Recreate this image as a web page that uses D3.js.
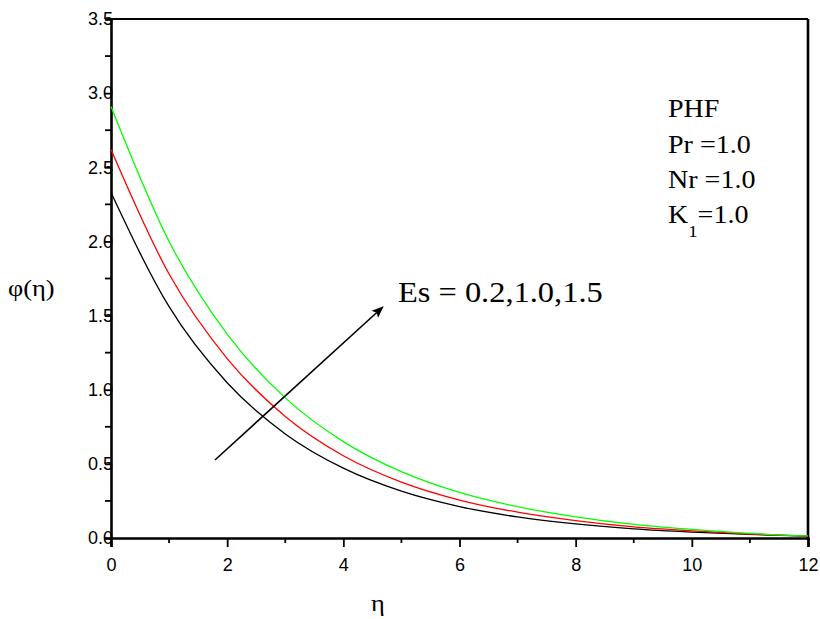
<!DOCTYPE html>
<html><head><meta charset="utf-8">
<script src="https://cdn.jsdelivr.net/npm/d3@7"></script>
<style>body{margin:0;background:#fff}svg{display:block}</style>
</head><body>
<svg id="c" width="820" height="619"></svg>
<script>
const eta = [0,1,2,3,4,5,6,7,8,9,10,11,12];
const phiEs02 = [2.33,1.56,1.047,0.702,0.471,0.316,0.212,0.142,0.095,0.062,0.040,0.024,0.012];
const phiEs10 = [2.62,1.78,1.21,0.82,0.555,0.377,0.256,0.174,0.117,0.075,0.048,0.027,0.013];
const phiEs15 = [2.91,2.00,1.375,0.945,0.650,0.447,0.307,0.211,0.143,0.092,0.058,0.031,0.014];
const seriesColors = ["#000000","#ff0000","#00ff00"];
const xTicks = [0,2,4,6,8,10,12];
const yTicks = [0.0,0.5,1.0,1.5,2.0,2.5,3.0,3.5];
const paramLines = ["PHF","Pr =1.0","Nr =1.0"];
const arrowFrom = [1.79,0.526], arrowTo = [4.68,1.558];

const svg = d3.select("#c");
const L=111,R=808,T=19,B=538;
const SX = 1.1; // horizontal stretch of the lettering in the source
const x = d3.scaleLinear().domain([0,12]).range([L,R]);
const y = d3.scaleLinear().domain([0,3.5]).range([B,T]);

// minor ticks
const g = svg.append("g");
d3.range(1,12,2).forEach(v=>{
  g.append("line").attr("x1",x(v)).attr("x2",x(v)).attr("y1",B).attr("y2",B+5).attr("stroke","#000").attr("stroke-width",1.8);
});
d3.range(0.25,3.5,0.5).forEach(v=>{
  g.append("line").attr("x1",L-6).attr("x2",L).attr("y1",y(v)).attr("y2",y(v)).attr("stroke","#000").attr("stroke-width",1.8);
});

// axes
const xAxis = svg.append("g").attr("transform",`translate(0,${B})`)
  .call(d3.axisBottom(x).tickValues(xTicks).tickSize(9).tickPadding(11).tickFormat(d3.format("d")));
const yAxis = svg.append("g").attr("transform",`translate(${L},0)`)
  .call(d3.axisLeft(y).tickValues(yTicks).tickSize(6).tickPadding(-8).tickFormat(d3.format(".1f")));
[xAxis,yAxis].forEach(a=>{
  a.select(".domain").attr("stroke-width",2.6);
  a.selectAll(".tick line").attr("stroke-width",1.8);
  a.selectAll("text").attr("font-family","Liberation Sans, Arial, sans-serif").attr("font-size",18).attr("fill","#000");
});
// frame top/right
svg.append("line").attr("x1",L).attr("x2",R).attr("y1",T).attr("y2",T).attr("stroke","#000").attr("stroke-width",2);
svg.append("line").attr("x1",R).attr("x2",R).attr("y1",T).attr("y2",B).attr("stroke","#000").attr("stroke-width",2.6);

// curves
const line = d3.line().x((d,i)=>x(eta[i])).y(d=>y(d)).curve(d3.curveMonotoneX);
[phiEs02,phiEs10,phiEs15].forEach((s,i)=>{
  svg.append("path").attr("d",line(s)).attr("fill","none").attr("stroke",seriesColors[i]).attr("stroke-width",1.3);
});

// arrow
svg.append("defs").append("marker").attr("id","ah").attr("viewBox","0 0 10 10").attr("refX",9).attr("refY",5)
  .attr("markerWidth",12).attr("markerHeight",12).attr("markerUnits","userSpaceOnUse").attr("orient","auto")
  .append("path").attr("d","M0,1 L10,5 L0,9 L2,5 Z").attr("fill","#000");
svg.append("line").attr("x1",x(arrowFrom[0])).attr("y1",y(arrowFrom[1])).attr("x2",x(arrowTo[0])).attr("y2",y(arrowTo[1]))
  .attr("stroke","#000").attr("stroke-width",1.6).attr("marker-end","url(#ah)");

const serif = "Liberation Serif, Times New Roman, serif";
function txt(px, py, size, anchor){
  return svg.append("text").attr("transform",`translate(${px},${py}) scale(${SX},1)`)
    .attr("font-family",serif).attr("font-size",size).attr("text-anchor",anchor||"start").attr("fill","#000");
}
txt(x(4.94), y(1.59), 29.5).text("Es = 0.2,1.0,1.5");

// params
paramLines.forEach((t,i)=>{ txt(668, 117+i*35.5, 25.5).text(t); });
const k = txt(668, 223, 25.5);
k.append("tspan").text("K");
k.append("tspan").attr("font-size",17).attr("dy",14).text("1");
k.append("tspan").attr("dy",-14).text("=1.0");

// axis titles
txt(8, 296, 24).text("φ(η)");
txt(378, 611, 24, "middle").text("η");
</script>
</body></html>
